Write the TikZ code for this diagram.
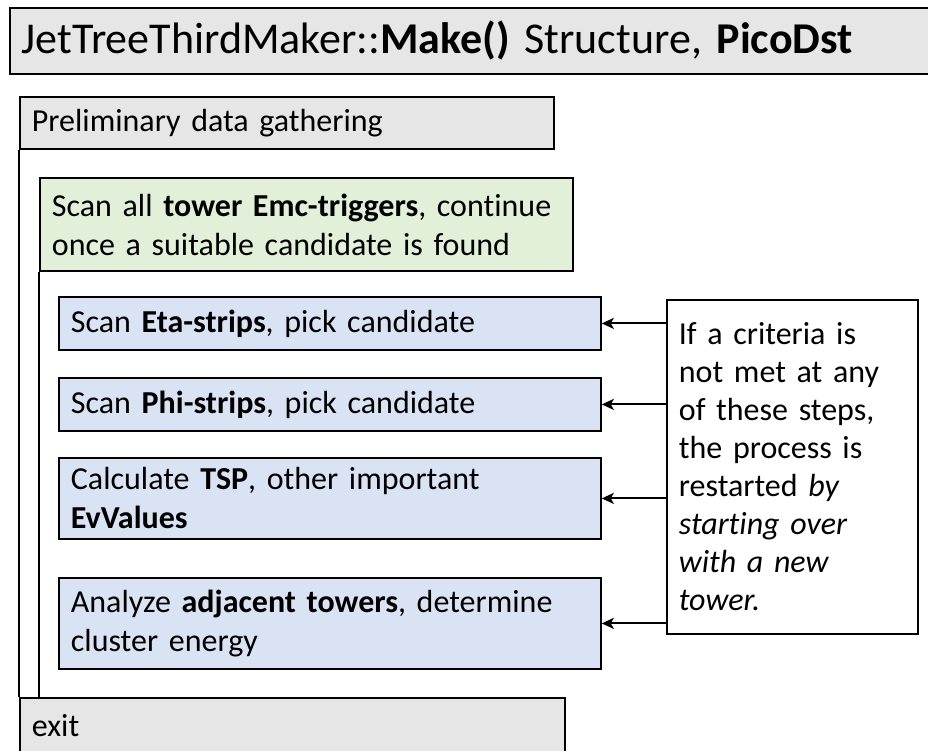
\documentclass[tikz,border=0pt]{standalone}
\usepackage{fontspec}
\setmainfont{Carlito}[Ligatures={NoCommon}]
\usetikzlibrary{positioning,arrows.meta}

\definecolor{boxgray}{HTML}{E7E6E6}
\definecolor{boxgreen}{HTML}{E2F0D9}
\definecolor{boxblue}{HTML}{DAE3F3}

\tikzset{
  blk/.style={draw=black, line width=1.8pt, anchor=north west, align=left,
    inner xsep=12pt, inner ysep=0pt, font=\fontsize{32}{39}\selectfont},
  arr/.style={-{Stealth[length=12pt,width=11pt,inset=3pt]}, line width=2pt},
}

\begin{document}
\begin{tikzpicture}[x=1pt,y=-1pt]
	%%%%% START %%%%%
	\useasboundingbox (0,0) rectangle (928,750);

	\node[blk, fill=boxgray, minimum width=925pt, minimum height=66pt, text width=901pt,
	      font=\fontsize{44}{50}\selectfont] (title) at (9,7)
	      {JetTreeThirdMaker::\textbf{Make()} Structure, \textbf{PicoDst}};

	\node[blk, fill=boxgray, minimum width=534pt, minimum height=52pt, text width=510pt] (prelim) at (19,96)
	      {Preliminary data gathering};
	\node[blk, fill=boxgreen, minimum width=533pt, minimum height=93pt, text width=509pt] (cand) at (39,177)
	      {Scan all \textbf{tower Emc-triggers}, continue\\once a suitable candidate is found};

	\node[blk, fill=boxblue, minimum width=542pt, minimum height=53pt, text width=518pt] (eta) at (58,296)
	      {Scan \textbf{Eta-strips}, pick candidate};
	\node[blk, fill=boxblue, minimum width=542pt, minimum height=53pt, text width=518pt] (phi) at (58,377)
	      {Scan \textbf{Phi-strips}, pick candidate};
	\node[blk, fill=boxblue, minimum width=542pt, minimum height=81pt, text width=518pt] (tsp) at (58,457)
	      {Calculate \textbf{TSP}, other important\\\textbf{EvValues}};
	\node[blk, fill=boxblue, minimum width=542pt, minimum height=91pt, text width=518pt] (adj) at (58,577)
	      {Analyze \textbf{adjacent towers}, determine\\cluster energy};

	\node[blk, fill=white, minimum width=251pt, minimum height=334pt, text width=227pt,
	      font=\fontsize{32}{38}\selectfont] (note) at (666,299)
	      {If a criteria is\\not met at any\\of these steps,\\the process is\\restarted \textit{by}\\\textit{starting over}\\\textit{with a new}\\\textit{tower.}};

	\node[blk, fill=boxgray, minimum width=545pt, minimum height=56pt, text width=521pt] (exit) at (19,697)
	      {exit};

	% nesting lines
	\draw[line width=1.8pt] (prelim.south west) -- (exit.north west);
	\draw[line width=1.8pt] (cand.south west) -- (cand.south west |- exit.north);

	% restart arrows
	\draw[arr] (eta.east -| note.west) -- (eta.east);
	\draw[arr] (phi.east -| note.west) -- (phi.east);
	\draw[arr] (tsp.east -| note.west) -- (tsp.east);
	\draw[arr] (adj.east -| note.west) -- (adj.east);
	%%%%% END %%%%%
\end{tikzpicture}
\end{document}
